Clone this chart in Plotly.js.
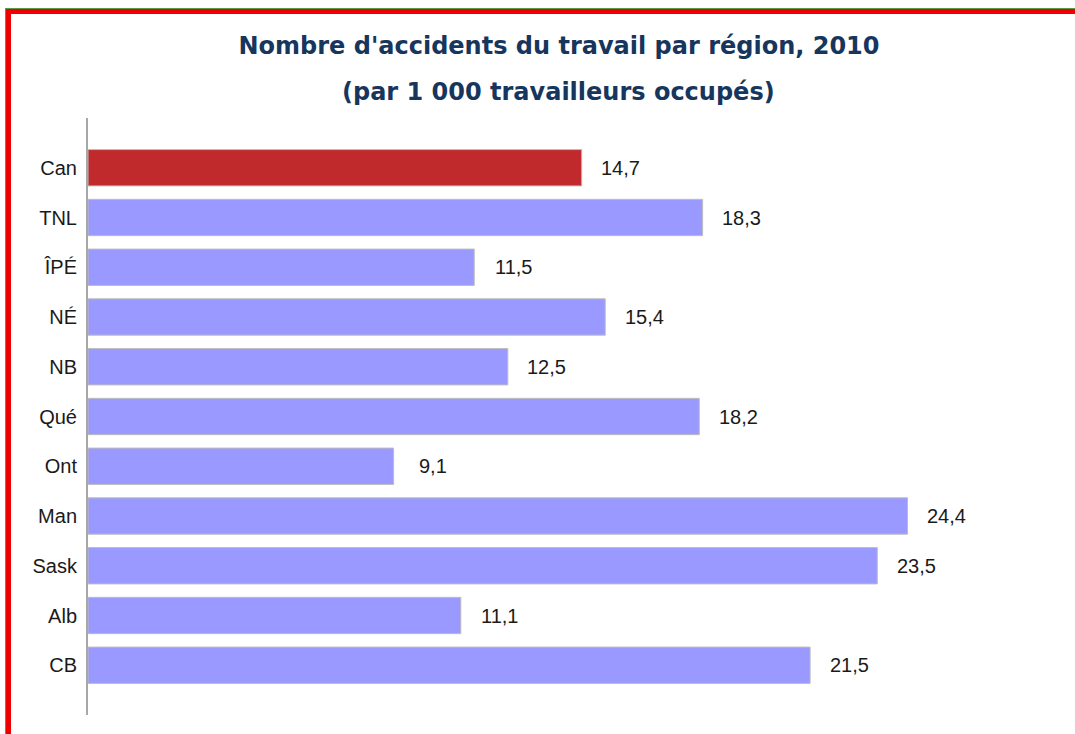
<!DOCTYPE html>
<html>
<head>
<meta charset="utf-8">
<script src="https://cdn.plot.ly/plotly-3.0.1.min.js"></script>
<style>
  html, body { margin: 0; padding: 0; background: #ffffff; }
  #wrap { position: relative; width: 1075px; height: 734px; overflow: hidden; }
  #chart { position: absolute; left: 0; top: 0; width: 1075px; height: 734px; }
  .frame-top-g { position: absolute; left: 5px; top: 8px; width: 1070px; height: 1px; background: #5a9a4a; }
  .frame-left-g { position: absolute; left: 5px; top: 8px; width: 1px; height: 726px; background: #5a9a4a; }
  .frame-top { position: absolute; left: 6px; top: 9px; width: 1069px; height: 5px; background: #ee0000; }
  .frame-left { position: absolute; left: 6px; top: 9px; width: 5px; height: 725px; background: #ee0000; }
</style>
</head>
<body>
<div id="wrap">
  <div id="chart"></div>
  <div class="frame-top-g"></div>
  <div class="frame-left-g"></div>
  <div class="frame-top"></div>
  <div class="frame-left"></div>
</div>
<script>
// Data (top to bottom)
const regions = ["Can", "TNL", "ÎPÉ", "NÉ", "NB", "Qué", "Ont", "Man", "Sask", "Alb", "CB"];
const accidents = [14.7, 18.3, 11.5, 15.4, 12.5, 18.2, 9.1, 24.4, 23.5, 11.1, 21.5];
const valueLabels = ["14,7", "18,3", "11,5", "15,4", "12,5", "18,2", "9,1", "24,4", "23,5", "11,1", "21,5"];
const titleLine1 = "Nombre d'accidents du travail par région, 2010";
const titleLine2 = "(par 1 000 travailleurs occupés)";

const barColors = regions.map(r => r === "Can" ? "#c02a2c" : "#9999ff");

const trace = {
  type: "bar",
  orientation: "h",
  y: regions,
  x: accidents,
  marker: { color: barColors, line: { color: "#bdbdbd", width: 1 } },
  hoverinfo: "skip"
};

const annotations = regions.map((r, i) => ({
  x: accidents[i], y: r, xref: "x", yref: "y",
  text: valueLabels[i], showarrow: false,
  xanchor: "center", yanchor: "middle", xshift: 39,
  font: { family: "Liberation Sans, Arial, sans-serif", size: 20, color: "#1a1a1a" }
}));

annotations.push({
  xref: "paper", yref: "paper", x: 0.4834, y: 1.0436,
  text: titleLine2, showarrow: false, xanchor: "center", yanchor: "middle",
  font: { family: "DejaVu Sans, Verdana, sans-serif", size: 24, color: "#17365d", weight: "bold" }
});

const layout = {
  width: 1075, height: 734,
  margin: { l: 88, r: 13, t: 118, b: 19, pad: 0 },
  paper_bgcolor: "#ffffff", plot_bgcolor: "#ffffff",
  showlegend: false,
  bargap: 0.27,
  title: {
    text: titleLine1,
    x: 559 / 1075, xanchor: "center", xref: "container",
    y: 1 - 46 / 734, yanchor: "middle", yref: "container",
    font: { family: "DejaVu Sans, Verdana, sans-serif", size: 24, color: "#17365d", weight: "bold" }
  },
  xaxis: {
    range: [0, 29], showgrid: false, zeroline: false, showline: false,
    showticklabels: false, ticks: "", fixedrange: true
  },
  yaxis: {
    type: "category", categoryorder: "array", categoryarray: regions,
    range: [11, -1], showgrid: false, zeroline: false,
    showline: true, linecolor: "#a8a8a8", linewidth: 2,
    ticks: "", ticklabelstandoff: 5,
    tickfont: { family: "Liberation Sans, Arial, sans-serif", size: 20, color: "#1a1a1a" },
    fixedrange: true
  },
  annotations: annotations
};

Plotly.newPlot("chart", [trace], layout, { displayModeBar: false, staticPlot: true });
</script>
</body>
</html>
